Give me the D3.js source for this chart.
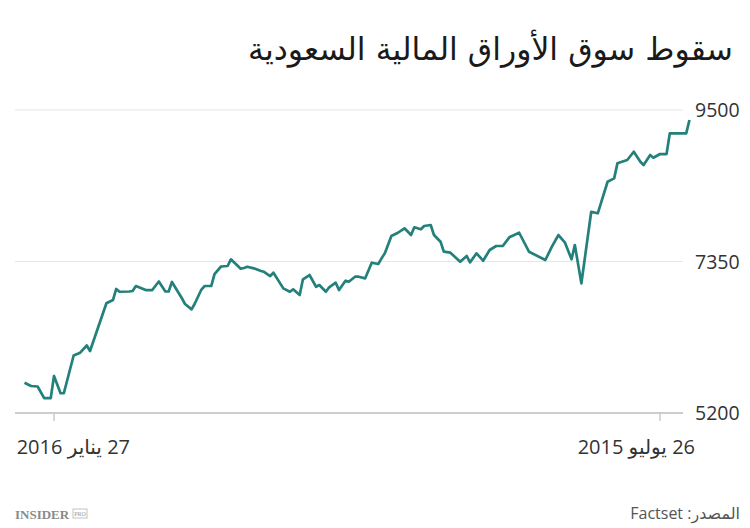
<!DOCTYPE html>
<html>
<head>
<meta charset="utf-8">
<script src="https://cdn.jsdelivr.net/npm/d3@7"></script>
<style>
  body { margin: 0; background: #fff; }
  svg { display: block; }
</style>
</head>
<body>
<svg id="chart"></svg>
<script>
// Tadawul index (time runs right to left)
const dates = [
  "2015-07-17", "2015-07-18", "2015-07-23", "2015-07-24", "2015-07-26", "2015-07-28",
  "2015-07-29", "2015-07-31", "2015-08-01", "2015-08-03", "2015-08-05", "2015-08-08",
  "2015-08-09", "2015-08-11", "2015-08-14", "2015-08-16", "2015-08-19", "2015-08-21",
  "2015-08-22", "2015-08-24", "2015-08-26", "2015-08-28", "2015-08-30", "2015-09-04",
  "2015-09-07", "2015-09-10", "2015-09-12", "2015-09-14", "2015-09-16", "2015-09-18",
  "2015-09-20", "2015-09-22", "2015-09-23", "2015-09-25", "2015-09-28", "2015-09-30",
  "2015-10-01", "2015-10-03", "2015-10-04", "2015-10-06", "2015-10-07", "2015-10-09",
  "2015-10-10", "2015-10-12", "2015-10-14", "2015-10-16", "2015-10-18", "2015-10-19",
  "2015-10-20", "2015-10-22", "2015-10-24", "2015-10-26", "2015-10-27", "2015-10-29",
  "2015-10-30", "2015-11-01", "2015-11-02", "2015-11-04", "2015-11-05", "2015-11-07",
  "2015-11-08", "2015-11-10", "2015-11-12", "2015-11-13", "2015-11-15", "2015-11-16",
  "2015-11-18", "2015-11-21", "2015-11-22", "2015-11-24", "2015-11-25", "2015-11-27",
  "2015-11-29", "2015-11-30", "2015-12-01", "2015-12-04", "2015-12-05", "2015-12-07",
  "2015-12-09", "2015-12-10", "2015-12-12", "2015-12-13", "2015-12-15", "2015-12-16",
  "2015-12-18", "2015-12-19", "2015-12-22", "2015-12-23", "2015-12-24", "2015-12-26",
  "2015-12-28", "2015-12-30", "2016-01-02", "2016-01-03", "2016-01-04", "2016-01-07",
  "2016-01-08", "2016-01-09", "2016-01-11", "2016-01-16", "2016-01-17", "2016-01-19",
  "2016-01-21", "2016-01-24", "2016-01-25", "2016-01-27", "2016-01-28", "2016-01-30",
  "2016-02-01", "2016-02-03", "2016-02-05"
];
const values = [
  9358, 9169, 9169, 8875, 8875, 8823, 8861, 8719, 8766, 8908, 8790, 8743,
  8530, 8482, 8034, 8056, 7040, 7584, 7381, 7617, 7726, 7560, 7371, 7489,
  7758, 7693, 7570, 7570, 7513, 7361, 7466, 7338, 7428, 7347, 7475, 7489,
  7631, 7726, 7868, 7854, 7807, 7835, 7726, 7821, 7758, 7712, 7466, 7395,
  7314, 7333, 7111, 7134, 7137, 7063, 7077, 6945, 7049, 6984, 6921, 7016,
  6992, 7158, 7097, 6874, 6955, 6921, 6969, 7191, 7144, 7205, 7219, 7253,
  7276, 7258, 7248, 7381, 7286, 7279, 7172, 7002, 7002, 6952, 6754, 6671,
  6747, 6832, 7059, 6924, 6924, 7066, 6945, 6945, 7002, 6931, 6924, 6921,
  6960, 6803, 6757, 6080, 6158, 6056, 6016, 5480, 5480, 5725, 5410, 5410,
  5576, 5583, 5630
];
const yTicks = [5200, 7350, 9500];
const xTicks = ["2016-01-27", "2015-07-26"];
const xTickLabels = ["27 يناير 2016", "26 يوليو 2015"];
const title = "سقوط سوق الأوراق المالية السعودية";
const source = "المصدر: Factset";

const width = 750, height = 528;
const parse = d3.utcParse("%Y-%m-%d");
const data = dates.map((d, i) => ({ date: parse(d), value: values[i] }));

const svg = d3.select("#chart").attr("width", width).attr("height", height);

const x = d3.scaleUtc()
  .domain([parse("2016-01-27"), parse("2015-07-26")])
  .range([54, 660]);
const y = d3.scaleLinear().domain([5200, 9500]).range([413, 110]);

const fontAr = "'Open Sans', 'DejaVu Sans', sans-serif";

// title, sized to fill its slot (rtl: start = right edge)
const t = svg.append("text")
  .attr("x", 733).attr("y", 60)
  .attr("direction", "rtl")
  .attr("text-anchor", "start")
  .attr("font-family", "'DejaVu Sans', sans-serif")
  .attr("font-size", 34)
  .attr("fill", "#1a1a1a")
  .text(title);
const tw = t.node().getComputedTextLength();
t.attr("font-size", Math.min(40, 34 * 485 / tw));

// gridlines
svg.append("g").selectAll("line")
  .data(yTicks)
  .join("line")
  .attr("x1", 15).attr("x2", 683)
  .attr("y1", d => y(d)).attr("y2", d => y(d))
  .attr("stroke", d => d === 5200 ? "#bcbcbc" : "#e6e6e6")
  .attr("stroke-width", d => d === 5200 ? 1.5 : 1.2);

svg.append("g").selectAll("text")
  .data(yTicks)
  .join("text")
  .attr("x", 695).attr("y", d => y(d))
  .attr("dy", "0.36em")
  .attr("font-family", fontAr)
  .attr("font-size", 19.5)
  .attr("fill", "#333")
  .text(d => d);

// x ticks
svg.append("g").selectAll("line")
  .data(xTicks)
  .join("line")
  .attr("x1", d => x(parse(d))).attr("x2", d => x(parse(d)))
  .attr("y1", 414).attr("y2", 421)
  .attr("stroke", "#bcbcbc").attr("stroke-width", 1.2);

svg.append("g").selectAll("text")
  .data(xTicks)
  .join("text")
  .attr("x", (d, i) => i === 0 ? x(parse(d)) + 76 : x(parse(d)) + 35)
  .attr("y", 454)
  .attr("direction", "rtl")
  .attr("text-anchor", "start")
  .attr("font-family", fontAr)
  .attr("font-size", 20)
  .attr("fill", "#333")
  .text((d, i) => xTickLabels[i]);

// the index line
const line = d3.line()
  .x(d => x(d.date))
  .y(d => y(d.value));

svg.append("path")
  .datum(data)
  .attr("d", line)
  .attr("fill", "none")
  .attr("stroke", "#23807b")
  .attr("stroke-width", 2.7)
  .attr("stroke-linejoin", "round");

// footer
svg.append("text")
  .attr("x", 740).attr("y", 519)
  .attr("direction", "rtl")
  .attr("text-anchor", "start")
  .attr("font-family", fontAr)
  .attr("font-size", 16)
  .attr("fill", "#555")
  .text(source);

svg.append("text")
  .attr("x", 15).attr("y", 519)
  .attr("font-family", "'Liberation Serif', serif")
  .attr("font-weight", "bold")
  .attr("font-size", 13)
  .attr("fill", "#8a8a8a")
  .text("INSIDER");
svg.append("rect")
  .attr("x", 73).attr("y", 509).attr("width", 14).attr("height", 9)
  .attr("fill", "none").attr("stroke", "#aaa").attr("stroke-width", 0.7);
svg.append("text")
  .attr("x", 80).attr("y", 516)
  .attr("text-anchor", "middle")
  .attr("font-family", "'Liberation Serif', serif")
  .attr("font-size", 6)
  .attr("fill", "#999")
  .text("PRO");
</script>
</body>
</html>
